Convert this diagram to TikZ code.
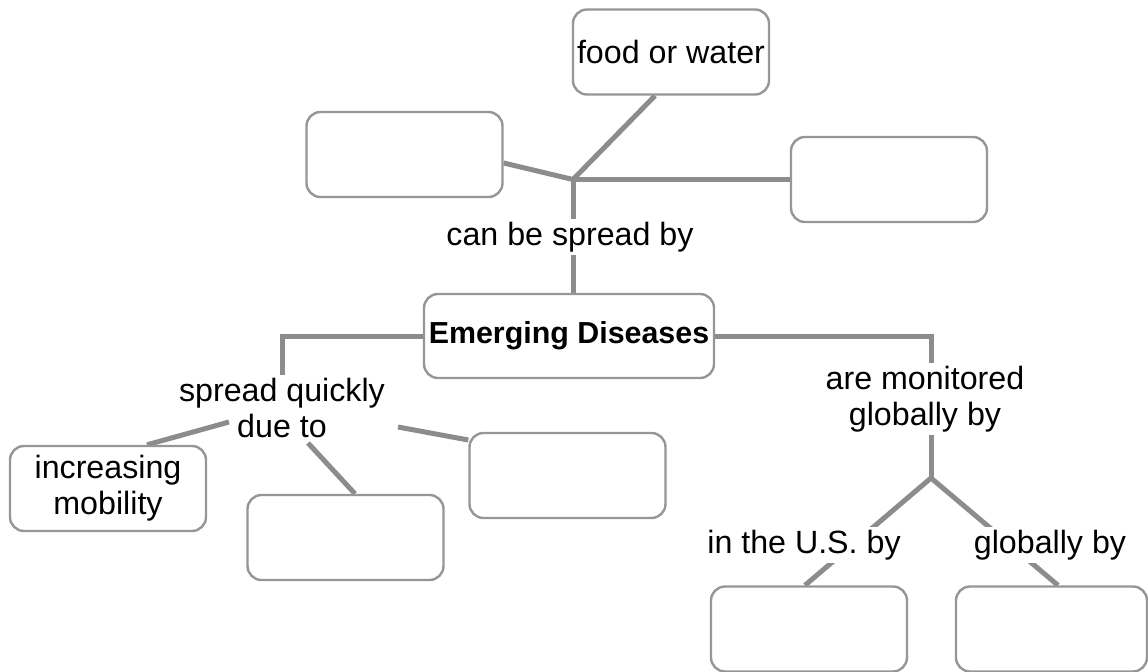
\documentclass[tikz,border=0pt]{standalone}
\usepackage{fontspec}
\setmainfont{Liberation Sans}
\usetikzlibrary{backgrounds}

\definecolor{linkgray}{RGB}{140,140,140}
\definecolor{boxgray}{RGB}{150,150,150}

\tikzset{
  concept/.style={draw=boxgray, line width=1.2pt, rounded corners=7pt, fill=white,
    minimum width=98pt, minimum height=42.5pt, inner sep=0pt, align=center},
  linkword/.style={fill=white, inner sep=1.5pt, align=center, anchor=base},
  link/.style={draw=linkgray, line width=2.5pt},
}

\begin{document}
\begin{tikzpicture}[x=0.5pt, y=-0.5pt, font=\fontsize{16.1}{18}\selectfont]
	\useasboundingbox (0,0) rectangle (1148,671);

	%The concepts
	\node[concept] (ed) at (569,336) [minimum width=145pt, minimum height=42pt, font=\bfseries\fontsize{15.2}{18}\selectfont] {Emerging Diseases};
	\node[concept] (food) at (671,52) {food or water};
	\node[concept] (tl) at (404.5,154.5) {};
	\node[concept] (tr) at (889,179.5) {};
	\node[concept] (im) at (108,488.5) {increasing\\mobility};
	\node[concept] (bm) at (345.5,537.5) {};
	\node[concept] (mr) at (567.5,475.5) {};
	\node[concept] (us) at (809,629) {};
	\node[concept, minimum width=95.5pt] (gl) at (1051.5,629) {};

	%The linking words
	\node[linkword] (spreadby) at (570,245) {can be spread by};
	\node[linkword, anchor=north, fill=none] (quickly) at (282,375) {spread quickly\\due to};
	\node[linkword, anchor=north] (monitored) at (925,363) {are monitored\\globally by};
	\node[linkword] (inus) at (804,553) {in the U.S. by};
	\node[linkword] (globally) at (1050,553) {globally by};

	%The branching points
	\coordinate (hub) at (573,179.5);
	\coordinate (split) at (931,478);
	\coordinate (q-im) at (229,422);
	\coordinate (q-bm) at (308,443);
	\coordinate (q-mr) at (398,427);

	\begin{scope}[on background layer]
	\draw[link] (ed.north -| hub) -- (hub);
	\draw[link] (hub) -- ([xshift=-8pt]food.south);
	\draw[link] (hub) -- ([yshift=-4.25pt]tl.east);
	\draw[link] (hub) -- (tr.west);

	\draw[link] (ed.west) -| (quickly.north);
	\draw[link] (q-im) -- ([xshift=19.5pt]im.north);
	\draw[link] (q-bm) -- ([xshift=4.75pt]bm.north);
	\draw[link] (q-mr) -- ([yshift=17.75pt]mr.west);

	\draw[link] (ed.east) -| (split);
	\draw[link] (split) -- ([xshift=-2pt]us.north);
	\draw[link] (split) -- ([xshift=3.25pt]gl.north);
	\end{scope}

\end{tikzpicture}
\end{document}
